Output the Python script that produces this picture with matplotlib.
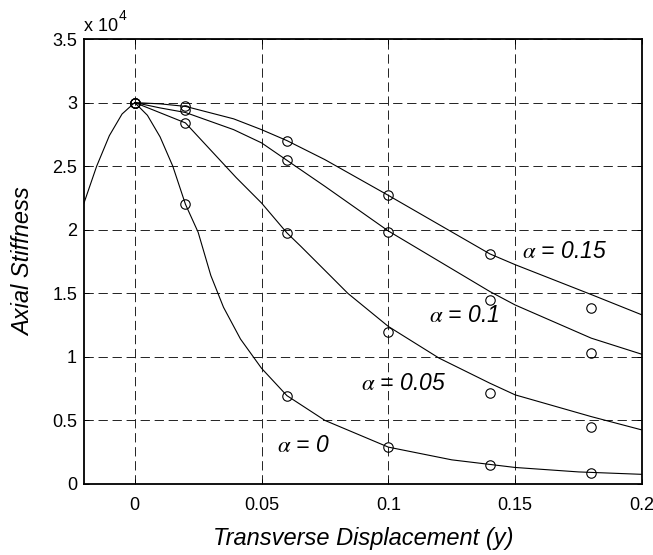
import matplotlib
matplotlib.use("Agg")
import matplotlib.pyplot as plt
from matplotlib.ticker import FuncFormatter, FixedLocator

plt.rcParams['font.family'] = ['Liberation Sans', 'DejaVu Sans']
plt.rcParams['mathtext.fontset'] = 'stix'
plt.rcParams['lines.scale_dashes'] = False

# ---- data ----
# fitted curves
x_a0 = [-0.02, -0.015, -0.01, -0.005, 0, 0.005, 0.01, 0.015, 0.02, 0.025, 0.03,
        0.035, 0.0417, 0.05, 0.06, 0.075, 0.1, 0.125, 0.15, 0.175, 0.2]
y_a0 = [22100, 25000, 27400, 29100, 30000, 29000, 27300, 25000, 22000, 19800, 16400,
        13900, 11400, 9100, 6950, 5000, 2900, 1900, 1300, 950, 760]

x_a005 = [0, 0.02, 0.03, 0.04, 0.05, 0.06, 0.0655, 0.0774, 0.084, 0.1, 0.12, 0.14, 0.15, 0.18, 0.2]
y_a005 = [30000, 28400, 26250, 24100, 22100, 19750, 18690, 16320, 15000, 12390, 9900, 7930, 7010, 5300, 4250]

x_a01 = [0, 0.01, 0.02, 0.039, 0.05, 0.06, 0.075, 0.1, 0.14, 0.15, 0.18, 0.2]
y_a01 = [30000, 29580, 29220, 27870, 26830, 25460, 23410, 19900, 15140, 14080, 11470, 10200]

x_a015 = [0, 0.01, 0.02, 0.039, 0.05, 0.06, 0.075, 0.1, 0.14, 0.15, 0.18, 0.2]
y_a015 = [30000, 29900, 29700, 28720, 27870, 27010, 25510, 22700, 18100, 17250, 14900, 13300]

# measured points (circles)
x_pts = [0, 0.02, 0.06, 0.1, 0.14, 0.18]
p_a0 = [30000, 22000, 6950, 2890, 1500, 900]
p_a005 = [30000, 28400, 19750, 11970, 7140, 4510]
p_a01 = [30000, 29450, 25460, 19790, 14460, 10290]
p_a015 = [30000, 29700, 27000, 22760, 18080, 13880]

labels = [r'$\alpha$ = 0', r'$\alpha$ = 0.05', r'$\alpha$ = 0.1', r'$\alpha$ = 0.15']
label_x = [0.056, 0.0893, 0.1159, 0.1528]
label_y = [3000, 7870, 13230, 18270]

x_ticks = [0, 0.05, 0.1, 0.15, 0.2]
y_ticks = [0, 5000, 10000, 15000, 20000, 25000, 30000, 35000]

# ---- figure ----
fig = plt.figure(figsize=(6.53, 5.55), dpi=100)
ax = fig.add_axes([84/653, 71/555, 558/653, 445/555])

curves = [(x_a0, y_a0), (x_a005, y_a005), (x_a01, y_a01), (x_a015, y_a015)]
for xs, ys in curves:
    ax.plot(xs, ys, color='black', lw=0.8, zorder=3)

for pts in [p_a0, p_a005, p_a01, p_a015]:
    ax.plot(x_pts, pts, linestyle='none', marker='o', ms=6.8, mfc='none',
            mec='black', mew=0.8, zorder=4)

for t, lx, ly in zip(labels, label_x, label_y):
    ax.text(lx, ly, t, ha='left', va='center', fontsize=16.5, fontstyle='italic', zorder=5)

ax.set_xlim(-0.02, 0.2)
ax.set_ylim(0, 35000)
ax.xaxis.set_major_locator(FixedLocator(x_ticks))
ax.yaxis.set_major_locator(FixedLocator(y_ticks))
ax.xaxis.set_major_formatter(FuncFormatter(lambda v, p: '%g' % v))
ax.yaxis.set_major_formatter(FuncFormatter(lambda v, p: '%g' % (v / 1e4)))

ax.grid(True, color='#222222', lw=0.7, linestyle=(0, (6.7, 3.4)))
ax.set_axisbelow(True)
ax.tick_params(direction='in', length=3.6, width=0.7, top=True, right=True, labelsize=13)
ax.tick_params(axis='x', pad=9)
ax.tick_params(axis='y', pad=5)
for s in ax.spines.values():
    s.set_linewidth(1.3)

ax.set_xlabel('Transverse Displacement (y)', fontsize=17, fontstyle='italic', labelpad=10)
ax.set_ylabel('Axial Stiffness', fontsize=17, fontstyle='italic', labelpad=12)

ax.text(0.0, 1.017, 'x 10', transform=ax.transAxes, ha='left', va='baseline', fontsize=13)
ax.text(0.062, 1.043, '4', transform=ax.transAxes, ha='left', va='baseline', fontsize=10)

fig.savefig('out.png', dpi=100)
